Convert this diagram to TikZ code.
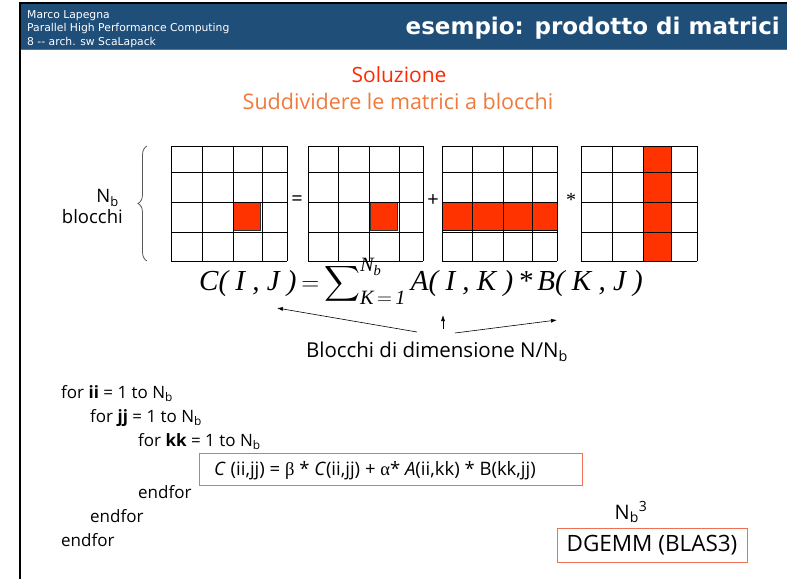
\documentclass[tikz,border=0pt]{standalone}
\usepackage{amsmath}
\usepackage{fontspec}
\setmainfont{Open Sans}
\newfontfamily\hdrfont{DejaVu Sans}
\newfontfamily\tmsfont{Liberation Serif}
\usetikzlibrary{decorations.pathreplacing,arrows.meta}
\definecolor{hdrblue}{RGB}{31,78,121}
\definecolor{hdrline}{RGB}{70,120,170}
\definecolor{solred}{RGB}{255,40,0}
\definecolor{solorange}{RGB}{240,122,60}
\definecolor{blockred}{RGB}{255,51,0}
\definecolor{boxsalmon}{RGB}{240,112,85}
\tikzset{
  hdrtxt/.style={text=white,font=\hdrfont\fontsize{10.8}{12}\selectfont,anchor=base west,inner sep=0pt},
  grid/.style={draw=black,line width=0.8pt},
  redblock/.style={fill=blockred,draw=black!80,line width=0.8pt},
  codetxt/.style={font=\fontsize{17}{19}\selectfont,anchor=base west,inner sep=0pt},
  opsym/.style={font=\fontsize{20}{22}\selectfont,inner sep=0pt},
  pointer/.style={line width=0.6pt,-{Latex[length=6pt,width=4pt]}},
  salmonbox/.style={draw=boxsalmon,line width=1pt}
}
\begin{document}
\begin{tikzpicture}[x=1pt,y=-1pt]
\useasboundingbox (0,0) rectangle (787,579);
\fill[white] (0,0) rectangle (787,579);
% header
\fill[hdrblue] (20,4) rectangle (787,49);
\draw[hdrline,line width=1.2pt] (20,49.5) -- (787,49.5);
\draw[black,line width=1.5pt] (19,3.2) -- (787,3.2);
\draw[black,line width=2pt] (20,2.5) -- (20,579);
\node[hdrtxt] (h1) at (27,18) {Marco Lapegna};
\node[hdrtxt] (h2) at (27,31.5) {Parallel High Performance Computing};
\node[hdrtxt] (h3) at (27,45) {8 -- arch. sw ScaLapack};
\node[text=white,font=\hdrfont\bfseries\fontsize{23}{26}\selectfont,anchor=base east,inner sep=0pt] (title) at (780,34) {esempio: prodotto di matrici};
% headings
\node[text=solred,font=\fontsize{21}{24}\selectfont,inner sep=0pt] (sol) at (399,75) {Soluzione};
\node[text=solorange,font=\fontsize{21.5}{24}\selectfont,inner sep=0pt] (sub) at (398,101) {Suddividere le matrici a blocchi};
% matrices: fills
\filldraw[redblock] (233,202) rectangle (260,230);
\filldraw[redblock] (370,202) rectangle (397,230);
\filldraw[redblock] (442,202) rectangle (557,230);
\filldraw[redblock] (643,146) rectangle (671,261);
% grids
\foreach \xs in {{171,202,233,262,287},{308,338,369,399,423},{442,472,503,532,557},{581,612,643,671,697}}{
  \foreach \x in \xs { \draw[grid] (\x,146) -- (\x,261); }
  \foreach \y in {146,172,202,232,261} {
    \pgfmathsetmacro{\xa}{{\xs}[0]}
    \pgfmathsetmacro{\xb}{{\xs}[4]}
    \draw[grid] (\xa,\y) -- (\xb,\y);
  }
}
\foreach \x in {643,671} { \draw[black,line width=0.8pt] (\x,146) -- (\x,261); }
\foreach \y in {202,230} { \draw[black,line width=0.8pt] (442,\y) -- (557,\y); }
\node[opsym] (eq) at (297,201) {=};
\node[opsym] (plus) at (433,201) {+};
\node[font=\tmsfont\fontsize{20}{22}\selectfont,inner sep=0pt] (star) at (571,200) {*};
% brace and label
\draw[gray!70!black,line width=0.8pt,decoration={brace,amplitude=9pt},decorate] (147,261) -- (147,146);
\node[font=\fontsize{18.5}{20}\selectfont,inner sep=0pt,anchor=east] (nb) at (119,198) {N\textsubscript{b}};
\node[font=\fontsize{18.5}{20}\selectfont,inner sep=0pt,anchor=east] (bl) at (123,217) {blocchi};
% formula
\node[font=\tmsfont\itshape\fontsize{29}{32}\selectfont,anchor=base west,inner sep=0pt] (formula) at (199,290)
  {C( I , J )\,$=$\,$\displaystyle\sum\nolimits_{\text{\tmsfont\itshape K\,$=$\,1}}^{\text{\tmsfont\itshape N}_{\text{\tmsfont\itshape b}}}$\,A( I , K )\,*\,B( K , J )};
\coordinate (tipJ) at (277,308);
\coordinate (tipIK) at (443,315);
\coordinate (tipK) at (557,320);
\node[font=\fontsize{20.5}{23}\selectfont,inner sep=0pt] (blk) at (437,352) {Blocchi di dimensione N/N\textsubscript{b}};
\coordinate (sA) at (417,332);
\coordinate (sB) at (443,329);
\coordinate (sC) at (455,333);
\draw[pointer] (sA) -- (tipJ);
\draw[pointer] (sB) -- (tipIK);
\draw[pointer] (sC) -- (tipK);
% code
\node[codetxt] (l1) at (61,398) {for \textbf{ii} = 1 to N\textsubscript{b}};
\node[codetxt] (l2) at (90,422) {for \textbf{jj} = 1 to N\textsubscript{b}};
\node[codetxt] (l3) at (138,446) {for \textbf{kk} = 1 to N\textsubscript{b}};
\node[salmonbox,minimum width=383pt,minimum height=32pt,inner sep=0pt,anchor=north west] (cbox) at (199,453) {};
\node[codetxt,font=\fontsize{18.5}{20}\selectfont] (l4) at (214,475) {\textit{C} (ii,jj) = {\tmsfont β} * \textit{C}(ii,jj) + {\tmsfont α}* \textit{A}(ii,kk) * B(kk,jj)};
\node[codetxt] (l5) at (138,498) {endfor};
\node[codetxt] (l6) at (90,522) {endfor};
\node[codetxt] (l7) at (61,546) {endfor};
\node[font=\fontsize{20}{22}\selectfont,inner sep=0pt] (nb3) at (631,512) {N\textsubscript{b}\textsuperscript{3}};
\node[salmonbox,minimum width=190pt,minimum height=34pt,inner sep=0pt,font=\fontsize{22.5}{25}\selectfont] (dg) at (652,545) {DGEMM (BLAS3)};
\end{tikzpicture}
\end{document}
